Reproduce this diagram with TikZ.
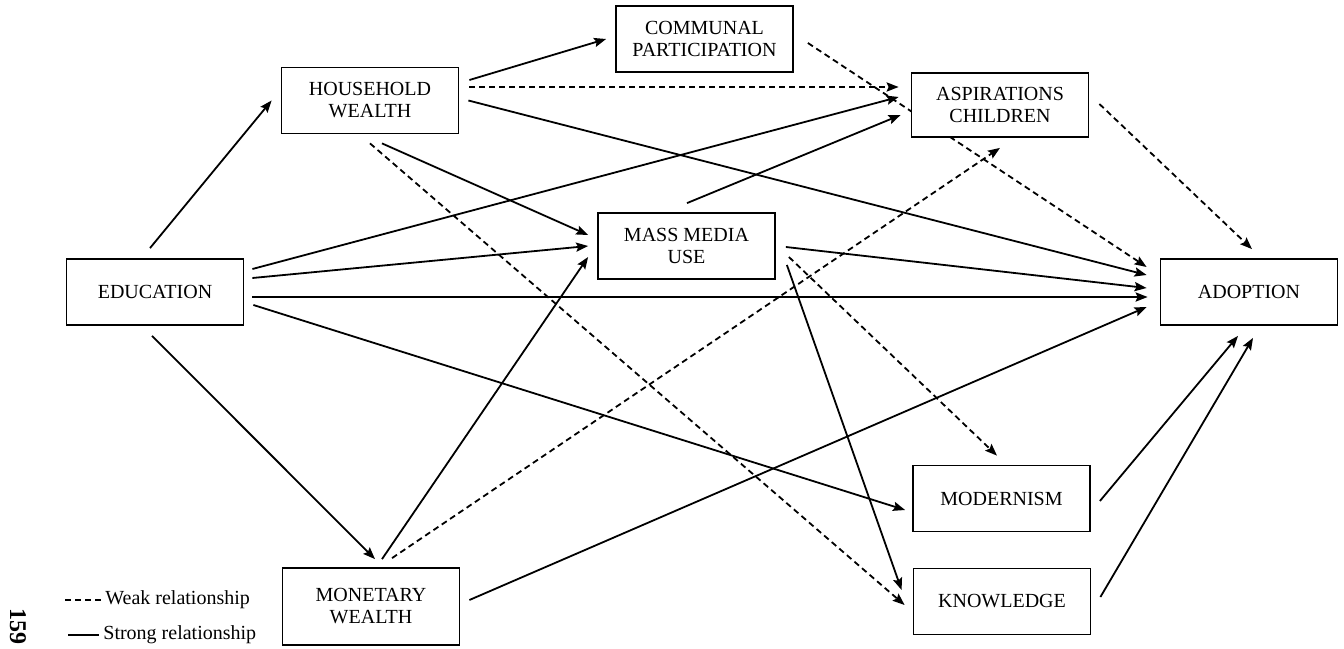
\documentclass[tikz,border=0pt]{standalone}
\usepackage{fontspec}
\setmainfont{Liberation Serif}
\usetikzlibrary{positioning,arrows.meta,calc,backgrounds}

\begin{document}
\begin{tikzpicture}[x=0.5pt,y=-0.5pt,
 var/.style={draw,line width=0.9pt,fill=white,align=center,minimum width=88.5pt,minimum height=33pt,inner sep=2pt,font=\fontsize{10}{11}\selectfont},
 strong/.style={-{Stealth[length=6pt,width=4.6pt,inset=1pt]},line width=0.9pt},
 weak/.style={strong,dash pattern=on 3pt off 2pt},
 lgd/.style={anchor=west,inner sep=2pt,font=\fontsize{10}{12}\selectfont}]
\useasboundingbox (0,0) rectangle (1344,648);
% variables
\node[var] (edu) at (155,292) {EDUCATION};
\node[var] (hh) at (370,100.5) {HOUSEHOLD\\WEALTH};
\node[var] (mon) at (371,606.5) [minimum height=38.5pt] {MONETARY\\WEALTH};
\node[var] (comm) at (704.5,39) {COMMUNAL\\PARTICIPATION};
\node[var] (mm) at (686.5,246) {MASS MEDIA\\USE};
\node[var] (asp) at (1000,105) [minimum height=32pt] {ASPIRATIONS\\CHILDREN};
\node[var] (mod) at (1001.5,498.5) {MODERNISM};
\node[var] (know) at (1002,601.5) {KNOWLEDGE};
\node[var] (adopt) at (1249,292) {ADOPTION};
% legend
\node[lgd] (lweak) at (101,600) {Weak relationship};
\node[lgd] (lstrong) at (99,635) {Strong relationship};
\draw[line width=0.9pt,dash pattern=on 3pt off 2pt] ($(lweak.west)+(-36,0)$) -- (lweak.west);
\draw[line width=0.9pt] ($(lstrong.west)+(-31,0)$) -- (lstrong.west);
\node[rotate=-90,font=\fontsize{12}{12}\bfseries] (page) at (18,626) {159};
% paths
\begin{scope}[on background layer]
% education
\draw[strong] ($(edu.north)+(-5,-10)$) -- ($(hh.west)+(-9,0)$);
\draw[strong] ($(edu.south)+(-3,10)$) -- ($(mon.north)+(4,-8)$);
\draw[strong] ($(edu.east)+(8,-23)$) -- ($(asp.west)+(-12,-8)$);
\draw[strong] ($(edu.east)+(8,-14)$) -- ($(mm.west)+(-9,0)$);
\draw[strong] ($(edu.east)+(8,5)$) -- ($(adopt.west)+(-12,5)$);
\draw[strong] ($(edu.east)+(9,13)$) -- ($(mod.west)+(-7,11.5)$);
% household wealth
\draw[strong] ($(hh.east)+(10,-20.5)$) -- ($(comm.west)+(-9,0)$);
\draw[weak] ($(hh.east)+(10,-13.5)$) -- ($(asp.west)+(-12,-18)$);
\draw[strong] ($(hh.east)+(9,0)$) -- ($(adopt.west)+(-13,-17)$);
\draw[strong] ($(hh.south)+(12,9)$) -- ($(mm.west)+(-9,-11)$);
\draw[weak] ($(hh.south)+(0,9)$) -- ($(know.west)+(-8,3.5)$);
% communal participation, aspirations
\draw[weak] ($(comm.east)+(14,4)$) -- ($(adopt.west)+(-13,-25)$);
\draw[weak] ($(asp.east)+(10,-1)$) -- ($(adopt.north)+(3,-9)$);
% mass media use
\draw[strong] ($(mm.north)+(0.5,-9)$) -- ($(asp.west)+(-10,10)$);
\draw[strong] ($(mm.east)+(10,1)$) -- ($(adopt.west)+(-13,-4)$);
\draw[weak] ($(mm.east)+(13,11)$) -- ($(mod.north)+(-4.5,-9)$);
\draw[strong] ($(mm.east)+(11,19)$) -- ($(know.west)+(-11,-11.5)$);
% monetary wealth
\draw[strong] ($(mon.north)+(11,-8)$) -- ($(mm.west)+(-9,11)$);
\draw[weak] ($(mon.north)+(21,-9)$) -- ($(asp.south)+(0,10)$);
\draw[strong] ($(mon.east)+(9,-6.5)$) -- ($(adopt.west)+(-13,15)$);
% modernism, knowledge
\draw[strong] ($(mod.east)+(9,2.5)$) -- ($(adopt.south)+(-11,10)$);
\draw[strong] ($(know.east)+(9,-4.5)$) -- ($(adopt.south)+(4,12)$);
\end{scope}
\end{tikzpicture}
\end{document}
